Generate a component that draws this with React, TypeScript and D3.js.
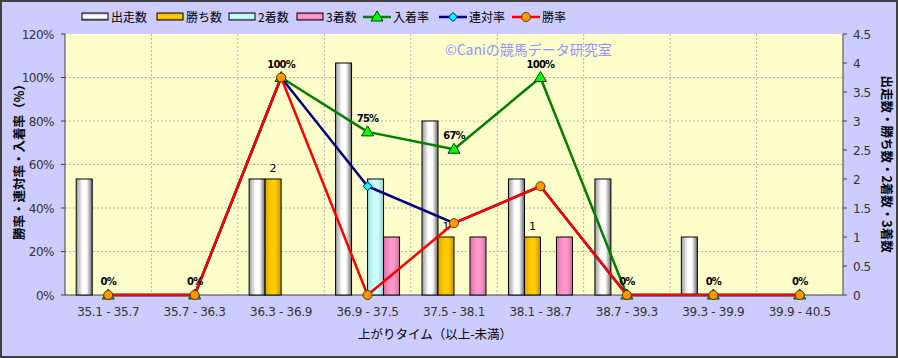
import React from "react";
import * as d3 from "d3";

const categories = ["35.1 - 35.7", "35.7 - 36.3", "36.3 - 36.9", "36.9 - 37.5", "37.5 - 38.1", "38.1 - 38.7", "38.7 - 39.3", "39.3 - 39.9", "39.9 - 40.5"];
const runs = [2, 0, 2, 4, 3, 2, 2, 1, 0];
const wins = [0, 0, 2, 0, 1, 1, 0, 0, 0];
const seconds = [0, 0, 0, 2, 0, 0, 0, 0, 0];
const thirds = [0, 0, 0, 1, 1, 1, 0, 0, 0];
const placeRate = [0, 0, 100, 75, 67, 100, 0, 0, 0];
const rentaiRate = [0, 0, 100, 50, 33, 50, 0, 0, 0];
const winRate = [0, 0, 100, 0, 33, 50, 0, 0, 0];
const leftTicks = [0, 20, 40, 60, 80, 100, 120];
const rightTicks = [0, 0.5, 1, 1.5, 2, 2.5, 3, 3.5, 4, 4.5];

const W = 898, H = 358;
const M = { left: 65, right: 843, top: 34, bottom: 295 };
const FONT = "'Noto Sans CJK JP', 'Noto Sans', sans-serif";
const NUMFONT = "'DejaVu Sans', sans-serif";

export default function App() {
  const x = d3.scaleBand<string>().domain(categories).range([M.left, M.right]).padding(0);
  const yL = d3.scaleLinear().domain([0, 120]).range([M.bottom, M.top]);
  const yR = d3.scaleLinear().domain([0, 4.5]).range([M.bottom, M.top]);
  const bw = x.bandwidth() * 0.185;
  const cx = (i: number) => (x(categories[i]) as number) + x.bandwidth() / 2;
  const barSeries = [
    { name: "出走数", values: runs, fill: "url(#gWhite)" },
    { name: "勝ち数", values: wins, fill: "url(#gGold)" },
    { name: "2着数", values: seconds, fill: "url(#gCyan)" },
    { name: "3着数", values: thirds, fill: "url(#gPink)" },
  ];
  const line = d3.line<number>().x((_, i) => cx(i)).y((v) => yL(v));
  const lineSeries = [
    { name: "入着率", values: placeRate, stroke: "#008000", marker: "tri", mfill: "#00ff00" },
    { name: "連対率", values: rentaiRate, stroke: "#000080", marker: "dia", mfill: "#00ffff" },
    { name: "勝率", values: winRate, stroke: "#ff0000", marker: "circ", mfill: "#ff9900" },
  ];
  const marker = (kind: string, px: number, py: number, fill: string, key: string | number) => {
    if (kind === "tri") return <path key={key} d={`M${px},${py - 6}L${px + 6},${py + 4}L${px - 6},${py + 4}Z`} fill={fill} stroke="#004000" strokeWidth={1} />;
    if (kind === "dia") return <path key={key} d={`M${px},${py - 4.5}L${px + 4.5},${py}L${px},${py + 4.5}L${px - 4.5},${py}Z`} fill={fill} stroke="#000080" strokeWidth={1} />;
    return <circle key={key} cx={px} cy={py} r={4.5} fill={fill} stroke="#663300" strokeWidth={1} />;
  };
  const legendBars = [
    { name: "出走数", fill: "url(#gWhiteL)", x: 82 },
    { name: "勝ち数", fill: "url(#gGoldL)", x: 157 },
    { name: "2着数", fill: "url(#gCyanL)", x: 229 },
    { name: "3着数", fill: "url(#gPinkL)", x: 297 },
  ];
  const legendLines = [
    { s: lineSeries[0], x: 363 },
    { s: lineSeries[1], x: 439 },
    { s: lineSeries[2], x: 512 },
  ];
  const grad = (id: string, c0: string, c1: string, c2: string, vertical = false) => (
    <linearGradient id={id} x1="0" y1="0" x2={vertical ? "0" : "1"} y2={vertical ? "1" : "0"}>
      <stop offset="0" stopColor={c0} />
      <stop offset="0.4" stopColor={c1} />
      <stop offset="0.65" stopColor={c1} />
      <stop offset="1" stopColor={c2} />
    </linearGradient>
  );
  return (
    <svg width={W} height={H} style={{ position: "absolute", left: 0, top: 0, fontFamily: FONT }}>
      <defs>
        {grad("gWhite", "#999999", "#ffffff", "#6a6a6a")}
        {grad("gGold", "#e0a800", "#ffcc00", "#c89400")}
        {grad("gCyan", "#a0e0e0", "#ccffff", "#90d0d0")}
        {grad("gPink", "#e070a8", "#ff99cc", "#d070a0")}
        {grad("gWhiteL", "#a8a8a8", "#ffffff", "#707070", true)}
        {grad("gGoldL", "#e0a800", "#ffcc00", "#c89400", true)}
        {grad("gCyanL", "#a0e0e0", "#ccffff", "#90d0d0", true)}
        {grad("gPinkL", "#e070a8", "#ff99cc", "#d070a0", true)}
      </defs>
      <rect x={1} y={1} width={W - 2} height={H - 2} fill="#ccccff" stroke="#404040" strokeWidth={2} />
      <rect x={M.left} y={M.top} width={M.right - M.left} height={M.bottom - M.top} fill="#ffffcc" />
      {/* grid */}
      {leftTicks.slice(1, -1).map((t) => (
        <line key={"h" + t} x1={M.left} x2={M.right} y1={yL(t)} y2={yL(t)} stroke="#b4b4b4" strokeDasharray="2,2" strokeWidth={1} />
      ))}
      {categories.slice(1).map((c) => (
        <line key={"v" + c} x1={x(c)} x2={x(c)} y1={M.top} y2={M.bottom} stroke="#b4b4b4" strokeDasharray="2,2" strokeWidth={1} />
      ))}
      {/* axes */}
      <line x1={M.left} x2={M.left} y1={M.top} y2={M.bottom} stroke="#404040" />
      <line x1={M.right} x2={M.right} y1={M.top} y2={M.bottom} stroke="#404040" />
      <line x1={M.left} x2={M.right} y1={M.bottom} y2={M.bottom} stroke="#404040" />
      {leftTicks.map((t) => (
        <g key={"lt" + t}>
          <line x1={M.left - 4} x2={M.left} y1={yL(t)} y2={yL(t)} stroke="#404040" />
          <text x={54} y={yL(t) + 4.5} textAnchor="end" fontSize={12} fill="#333" fontFamily={NUMFONT} letterSpacing={-0.5}>{t}%</text>
        </g>
      ))}
      {rightTicks.map((t) => (
        <g key={"rt" + t}>
          <line x1={M.right} x2={M.right + 4} y1={yR(t)} y2={yR(t)} stroke="#404040" />
          <text x={853} y={yR(t) + 4.5} textAnchor="start" fontSize={12} fill="#333" fontFamily={NUMFONT} letterSpacing={-0.5}>{t}</text>
        </g>
      ))}
      {categories.map((c, i) => (
        <text key={"xl" + c} x={cx(i)} y={316} textAnchor="middle" fontSize={12} fill="#333" fontFamily={NUMFONT} letterSpacing={-0.3}>{c}</text>
      ))}
      {/* bars */}
      {barSeries.map((s, si) =>
        s.values.map((v, i) =>
          v > 0 ? (
            <rect key={s.name + i} x={cx(i) - 2 * bw + si * bw} y={yR(v)} width={bw} height={yR(0) - yR(v)} fill={s.fill} stroke="#000" strokeWidth={1} />
          ) : null
        )
      )}
      {wins.map((v, i) =>
        v > 0 ? (
          <text key={"wl" + i} x={cx(i) - bw / 2} y={yR(v) - 7} textAnchor="middle" fontSize={11} fill="#000" fontFamily={NUMFONT}>{v}</text>
        ) : null
      )}
      {/* lines */}
      {lineSeries.map((s) => (
        <g key={s.name}>
          <path d={line(s.values) || ""} fill="none" stroke={s.stroke} strokeWidth={2.5} strokeLinejoin="round" />
          {s.values.map((v, i) => marker(s.marker, cx(i), yL(v), s.mfill, s.name + i))}
        </g>
      ))}
      {placeRate.map((v, i) => (
        <text key={"pl" + i} x={cx(i)} y={yL(v) - 10} textAnchor="middle" fontSize={10} fontWeight="bold" fill="#000" fontFamily={NUMFONT} letterSpacing={-0.8}>{v}%</text>
      ))}
      {/* watermark */}
      <text x={445} y={55} fontSize={14} fill="#9292ff" fontFamily={FONT}>©Caniの競馬データ研究室</text>
      {/* legend */}
      {legendBars.map((l) => (
        <g key={l.name}>
          <rect x={l.x} y={13} width={26} height={7} fill={l.fill} stroke="#000" strokeWidth={1} />
          <text x={l.x + 29} y={22} fontSize={12} fill="#000">{l.name}</text>
        </g>
      ))}
      {legendLines.map((l) => (
        <g key={l.s.name}>
          <line x1={l.x} x2={l.x + 28} y1={17} y2={17} stroke={l.s.stroke} strokeWidth={2.5} />
          {marker(l.s.marker, l.x + 14, 17, l.s.mfill, "lm")}
          <text x={l.x + 30} y={22} fontSize={12} fill="#000">{l.s.name}</text>
        </g>
      ))}
      {/* axis titles */}
      <text transform={`translate(24,159) rotate(-90)`} textAnchor="middle" fontSize={12.5} fontWeight="bold" fill="#000">勝率・連対率・入着率（%）</text>
      <text transform={`translate(882,164) rotate(90)`} textAnchor="middle" fontSize={12.5} fontWeight="bold" fill="#000">出走数・勝ち数・2着数・3着数</text>
      <text x={435} y={339} textAnchor="middle" fontSize={12.5} fill="#000">上がりタイム（以上-未満）</text>
    </svg>
  );
}
